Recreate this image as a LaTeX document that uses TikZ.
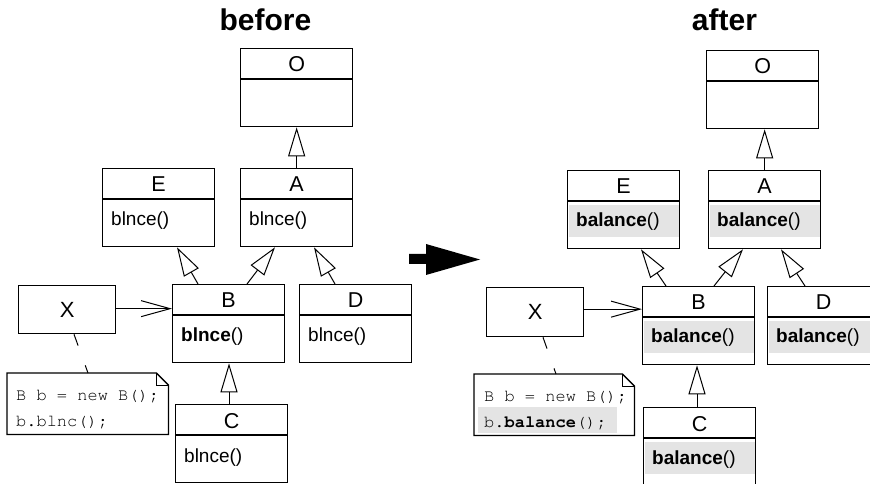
\documentclass[tikz,border=0pt]{standalone}
\usepackage{fontspec}
\setmainfont{Liberation Sans}
\setmonofont{TeX Gyre Cursor}
\usetikzlibrary{arrows.meta,calc}

\definecolor{hilite}{HTML}{E4E4E4}

\tikzset{
  boxline/.style={line width=1.3bp},
  classbox/.style={draw, boxline, minimum width=112bp, minimum height=78bp,
    inner sep=0pt, anchor=north west},
  objbox/.style={draw, boxline, minimum width=97bp, minimum height=48bp,
    inner sep=0pt, anchor=north west, font=\fontsize{22bp}{22bp}\selectfont},
  notebox/.style={minimum width=161bp, minimum height=61bp, inner sep=0pt,
    anchor=north west},
  titletext/.style={anchor=base, inner sep=0pt, font=\fontsize{21.5bp}{21.5bp}\selectfont},
  methtext/.style={anchor=base west, inner sep=0pt, font=\fontsize{19bp}{19bp}\selectfont},
  codetext/.style={anchor=base west, inner sep=0pt, font=\ttfamily\fontsize{17bp}{17bp}\selectfont},
  headtext/.style={anchor=base, inner sep=0pt, font=\bfseries\fontsize{30bp}{30bp}\selectfont},
  inh/.style={line width=1bp, -{Triangle[open, length=29bp, width=17bp]}},
  assoc/.style={line width=1bp, -{Straight Barb[length=29bp, width=16bp]}},
  notelink/.style={line width=1bp, dash pattern=on 12bp off 21bp},
}

% class box: name, north-west corner, class name, method line
\newcommand\umlclass[4]{%
  \node[classbox] (#1) at (#2) {};
  \draw[boxline] ($(#1.north west)+(0,31)$) -- ($(#1.north east)+(0,31)$);
  \node[titletext] (#1-t) at ($(#1.north)+(0,24)$) {#3};
  \node[methtext] (#1-m) at ($(#1.north west)+(9,58)$) {#4};
}
% same, with the method compartment shaded
\newcommand\umlclasshi[4]{%
  \node[classbox] (#1) at (#2) {};
  \fill[hilite] ($(#1.north west)+(1.5,35)$) rectangle ($(#1.north east)+(-1.5,67)$);
  \draw[boxline] ($(#1.north west)+(0,31)$) -- ($(#1.north east)+(0,31)$);
  \node[titletext] (#1-t) at ($(#1.north)+(0,24)$) {#3};
  \node[methtext] (#1-m) at ($(#1.north west)+(9,57)$) {#4};
}
% dog-eared note outline around a node
\newcommand\noteframe[1]{%
  \draw[boxline] (#1.north west) -- ($(#1.north east)+(-12,0)$)
    -- ($(#1.north east)+(0,12)$) -- (#1.south east) -- (#1.south west) -- cycle;
  \draw[line width=1bp] ($(#1.north east)+(-12,0)$) |- ($(#1.north east)+(0,12)$);
}

\begin{document}
\begin{tikzpicture}[x=1bp, y=-1bp]
\clip (0,0) rectangle (870,484);

% headings
\node[headtext] (hbefore) at (265.5,31) {before};
\node[headtext] (hafter) at (724.5,31) {after};

% ---------- before ----------
\umlclass{oL}{240,48}{O}{}
\umlclass{eL}{102,168}{E}{blnce()}
\umlclass{aL}{240,168}{A}{blnce()}
\umlclass{bL}{172,284}{B}{\textbf{blnce}()}
\umlclass{dL}{299,284}{D}{blnce()}
\umlclass{cL}{175,404}{C}{blnce()}
\node[objbox] (xL) at (18,285) {X};

\node[notebox] (noteL) at (7,373) {};
\noteframe{noteL}
\node[codetext] (codeL1) at ($(noteL.north west)+(9,27)$) {B b = new B();};
\node[codetext] (codeL2) at ($(noteL.north west)+(9,53)$) {b.blnc();};

\draw[inh] (aL.north) -- (aL.north |- oL.south);
\draw[inh] ($(bL.north west)+(26,0)$) -- ($(eL.south west)+(75,0)$);
\draw[inh] ($(bL.north west)+(75,0)$) -- ($(aL.south west)+(35,0)$);
\draw[inh] ($(dL.north west)+(36,0)$) -- ($(aL.south west)+(74,0)$);
\draw[inh] ($(cL.north west)+(54,0)$) -- ($(bL.south west)+(57,0)$);
\draw[assoc] ($(xL.east)+(0,-1)$) -- ($(xL.east -| bL.west)+(0,-1)$);
\draw[notelink] ($(xL.south west)+(56,0)$) -- ($(noteL.north west)+(81,0)$);

% transformation arrow
\fill (409,254) -- (426,254) -- (426,244) -- (480,259.5) -- (426,275)
  -- (426,264) -- (409,264) -- cycle;

% ---------- after ----------
\umlclass{oR}{706,50}{O}{}
\umlclasshi{eR}{567,170}{E}{\textbf{balance}()}
\umlclasshi{aR}{708,170}{A}{\textbf{balance}()}
\umlclasshi{bR}{642,286}{B}{\textbf{balance}()}
\umlclasshi{dR}{767,286}{D}{\textbf{balance}()}
\umlclasshi{cR}{643,407}{C}{\textbf{balance}()}
\node[objbox, minimum height=49bp] (xR) at (486,287) {X};

\node[notebox, minimum width=160bp] (noteR) at (474,374) {};
\fill[hilite] ($(noteR.north west)+(4,33)$) rectangle ($(noteR.north west)+(143,59)$);
\noteframe{noteR}
\node[codetext] (codeR1) at ($(noteR.north west)+(10,27)$) {B b = new B();};
\node[codetext] (codeR2) at ($(noteR.north west)+(10,53)$) {b.\textbf{balance}();};

\draw[inh] (aR.north) -- (aR.north |- oR.south);
\draw[inh] ($(bR.north west)+(24,0)$) -- ($(eR.south west)+(74,0)$);
\draw[inh] ($(bR.north west)+(72,0)$) -- ($(aR.south west)+(35,0)$);
\draw[inh] ($(dR.north west)+(38,0)$) -- ($(aR.south west)+(73,0)$);
\draw[inh] ($(cR.north west)+(54,0)$) -- ($(bR.south west)+(55,0)$);
\draw[assoc] ($(xR.east)+(0,-3)$) -- ($(xR.east -| bR.west)+(0,-3)$);
\draw[notelink] ($(xR.south west)+(57,0)$) -- ($(noteR.north west)+(82,0)$);
\end{tikzpicture}
\end{document}
